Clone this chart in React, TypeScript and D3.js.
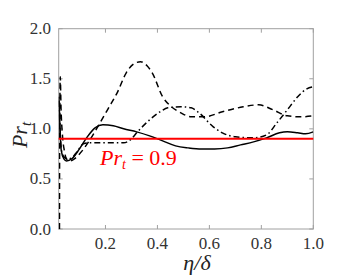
import React from "react";
import * as d3 from "d3";

const xTicks = [0.2, 0.4, 0.6, 0.8, 1.0];
const yTicks = [0.0, 0.5, 1.0, 1.5, 2.0];

const etaSolid = [0.021, 0.025, 0.03, 0.04, 0.05, 0.07, 0.1, 0.13, 0.16, 0.19, 0.23, 0.27, 0.32, 0.37, 0.42, 0.47, 0.52, 0.57, 0.62, 0.67, 0.72, 0.77, 0.82, 0.87, 0.9, 0.94, 0.97, 1.0];
const prSolid = [1.32, 1.0, 0.78, 0.7, 0.68, 0.7, 0.8, 0.92, 1.01, 1.04, 1.03, 1.0, 0.97, 0.93, 0.88, 0.83, 0.81, 0.8, 0.8, 0.81, 0.84, 0.87, 0.91, 0.96, 0.97, 0.96, 0.95, 0.97];

const etaDashed = [0.023, 0.0235, 0.026, 0.029, 0.034, 0.042, 0.05, 0.065, 0.08, 0.11, 0.14, 0.17, 0.21, 0.245, 0.28, 0.31, 0.335, 0.36, 0.38, 0.42, 0.45, 0.49, 0.53, 0.58, 0.65, 0.73, 0.79, 0.845, 0.9, 0.95, 1.0];
const prDashed = [0.0, 0.75, 1.52, 1.2, 0.95, 0.78, 0.7, 0.68, 0.7, 0.78, 0.89, 1.02, 1.2, 1.36, 1.56, 1.65, 1.67, 1.63, 1.56, 1.32, 1.23, 1.16, 1.12, 1.12, 1.17, 1.22, 1.24, 1.19, 1.13, 1.12, 1.13];

const etaDashDot = [0.021, 0.025, 0.03, 0.04, 0.055, 0.07, 0.09, 0.115, 0.14, 0.2, 0.27, 0.3, 0.32, 0.37, 0.41, 0.44, 0.49, 0.53, 0.56, 0.615, 0.65, 0.7, 0.77, 0.82, 0.86, 0.9, 0.94, 0.975, 1.0];
const prDashDot = [1.28, 1.0, 0.8, 0.72, 0.7, 0.71, 0.77, 0.85, 0.86, 0.86, 0.86, 0.9, 0.96, 1.09, 1.17, 1.21, 1.22, 1.21, 1.16, 1.02, 0.96, 0.92, 0.91, 0.94, 1.06, 1.19, 1.32, 1.4, 1.42];

const prRef = 0.9;

export default function App() {
  const left = 58.7, right = 313.3, top = 28.7, bottom = 229;
  const x = d3.scaleLinear().domain([0.02, 1.0]).range([left, right]);
  const y = d3.scaleLinear().domain([0, 2]).range([bottom, top]);
  const line = (xs: number[], ys: number[]) =>
    d3.line<number>().x((_, i) => x(xs[i])).y((d) => y(d)).curve(d3.curveMonotoneX)(ys) || "";
  const axisColor = "#a0a0a0";
  const font = "Liberation Serif, DejaVu Serif, serif";
  return (
    <svg width={344} height={275} style={{ position: "absolute", left: 0, top: 0, background: "#fff", fontFamily: font }}>
      <defs>
        <clipPath id="clip">
          <rect x={left} y={top} width={right - left} height={bottom - top} />
        </clipPath>
      </defs>
      <rect x={left} y={top} width={right - left} height={bottom - top} fill="none" stroke={axisColor} strokeWidth={1} />
      {xTicks.map((t) => (
        <g key={"x" + t}>
          <line x1={x(t)} x2={x(t)} y1={bottom} y2={bottom - 4} stroke={axisColor} />
          <line x1={x(t)} x2={x(t)} y1={top} y2={top + 4} stroke={axisColor} />
          <text x={x(t)} y={249} textAnchor="middle" style={{ fontFamily: font }} fontSize={17} fill="#333">
            {t.toFixed(1)}
          </text>
        </g>
      ))}
      {yTicks.map((t) => (
        <g key={"y" + t}>
          <line x1={left} x2={left + 4} y1={y(t)} y2={y(t)} stroke={axisColor} />
          <line x1={right} x2={right - 4} y1={y(t)} y2={y(t)} stroke={axisColor} />
          <text x={51} y={y(t) + 5.5} textAnchor="end" style={{ fontFamily: font }} fontSize={17} fill="#333">
            {t.toFixed(1)}
          </text>
        </g>
      ))}
      <g clipPath="url(#clip)" fill="none" stroke="#000" strokeWidth={1.5}>
        <path d={line(etaSolid, prSolid)} />
        <path d={line(etaDashed, prDashed)} strokeDasharray="6,4" />
        <path d={line(etaDashDot, prDashDot)} strokeDasharray="6,3,1.5,3" />
      </g>
      <line x1={left} x2={right} y1={y(prRef)} y2={y(prRef)} stroke="#ff0000" strokeWidth={2} />
      <text x={100} y={165} style={{ fontFamily: font }} fontSize={22} fill="#ff0000">
        <tspan fontStyle="italic">Pr</tspan>
        <tspan fontStyle="italic" fontSize={14} dy={4}>t</tspan>
        <tspan dy={-4}> = 0.9</tspan>
      </text>
      <text transform="translate(27,135) rotate(-90)" textAnchor="middle" style={{ fontFamily: font }} fontSize={22} fill="#222">
        <tspan fontStyle="italic">Pr</tspan>
        <tspan fontStyle="italic" fontSize={15} dy={4}>t</tspan>
      </text>
      <text x={197} y={270} textAnchor="middle" style={{ fontFamily: font }} fontSize={22} fill="#222" fontStyle="italic">
        η/δ
      </text>
    </svg>
  );
}
